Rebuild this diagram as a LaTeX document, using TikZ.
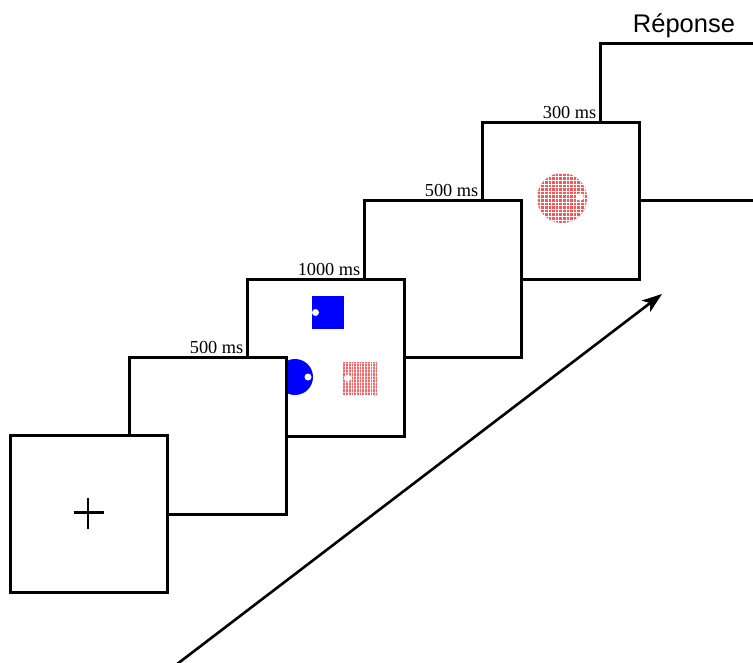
\documentclass[tikz,border=0pt]{standalone}
\usepackage{fontspec}
\setmainfont{Liberation Serif}
\newfontfamily\arialf{Liberation Sans}
\usetikzlibrary{arrows.meta,calc}
\begin{document}
\begin{tikzpicture}[x=1pt,y=-1pt,
  frame/.style={draw=black, fill=white, line width=3pt, minimum width=157pt, minimum height=157pt, inner sep=0pt},
  lbl/.style={font=\fontsize{18.3}{20}\selectfont, inner sep=0pt, anchor=base east},
  hole/.style={fill=white},
  gridline/.style={white, line width=0.55pt},
  arrowline/.style={line width=2.6pt, -{Stealth[length=20pt,width=14pt,inset=5pt]}}]
\clip (0,0) rectangle (753,662);
\fill[white] (0,0) rectangle (753,662);

% frames drawn back to front
\node[frame] (f6) at (678.5,121.5) {};
\node[frame] (f5) at (560.5,200.5) {};
% red gridded disc
\begin{scope}
  \clip (562,198) circle[radius=25pt];
  \fill[red!68!white] (536,172) rectangle (588,224);
  \foreach \i in {0,...,14} {
    \draw[gridline] (537+\i*3.6,172) -- ++(0,52);
    \draw[gridline] (536,173+\i*3.6) -- ++(52,0);
  }
\end{scope}
\fill[hole] (580,197) circle[radius=3.8pt];

\node[frame] (f4) at (442.5,278.5) {};
\node[frame] (f3) at (325.5,357.5) {};
% stimuli
\fill[blue] (312,296) rectangle (344,329);
\fill[hole] (315.5,312.5) circle[radius=3.5pt];
\fill[blue] (295,377) circle[radius=18pt];
\fill[hole] (308,377) circle[radius=3.5pt];
\begin{scope}
  \clip (343,362) rectangle (377,395);
  \fill[red!62!white] (343,362) rectangle (377,395);
  \foreach \i in {0,...,12} {
    \draw[gridline] (345.5+\i*2.7,362) -- ++(0,33);
  }
  \foreach \i in {0,...,10} {
    \draw[white, line width=0.35pt, opacity=0.5] (343,363+\i*3.2) -- ++(34,0);
  }
\end{scope}
\fill[hole] (347.5,378) circle[radius=3.5pt];

\node[frame] (f2) at (207.5,435.5) {};
\node[frame] (f1) at (88.5,513.5) {};
% fixation cross
\draw[line width=2.8pt] ($(f1.center)+(-15,-1)$) -- ($(f1.center)+(15,-1)$);
\draw[line width=2.8pt] ($(f1.center)+(-0.5,-16)$) -- ($(f1.center)+(-0.5,15)$);

% durations
\node[lbl] (t1) at ([xshift=-2pt,yshift=2pt]f2.north -| f3.west) {500 ms};
\node[lbl] (t2) at ([xshift=-2pt,yshift=2pt]f3.north -| f4.west) {1000 ms};
\node[lbl] (t3) at ([xshift=-2pt,yshift=2pt]f4.north -| f5.west) {500 ms};
\node[lbl] (t4) at ([xshift=-2pt,yshift=2pt]f5.north -| f6.west) {300 ms};
\node[font=\arialf\fontsize{25.5}{28}\selectfont, inner sep=0pt, anchor=base] (rep) at (684,32) {Réponse};

% time arrow
\coordinate (a0) at (168,671);
\coordinate (a1) at (662,294);
\draw[arrowline] (a0) -- (a1);
\end{tikzpicture}
\end{document}
